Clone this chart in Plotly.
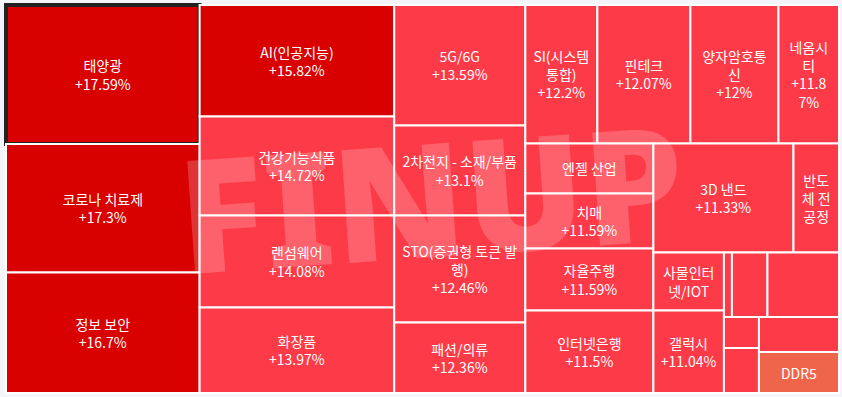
import plotly.graph_objects as go

# ---- data ----
names = ["태양광", "코로나 치료제", "정보 보안", "AI(인공지능)", "건강기능식품", "랜섬웨어", "화장품",
         "5G/6G", "2차전지 - 소재/부품", "STO(증권형 토큰 발행)", "패션/의류",
         "SI(시스템통합)", "핀테크", "양자암호통신", "네옴시티",
         "엔젤 산업", "치매", "자율주행", "인터넷은행", "3D 낸드", "반도체 전공정",
         "사물인터넷/IOT", "갤럭시", "", "", "", "", "", "", "DDR5"]
changes = [17.59, 17.3, 16.7, 15.82, 14.72, 14.08, 13.97,
           13.59, 13.1, 12.46, 12.36,
           12.2, 12.07, 12.0, 11.87,
           11.6, 11.59, 11.59, 11.5, 11.33, 11.2,
           11.1, 11.04, 11.0, 10.95, 10.9, 10.85, 10.8, 10.7, 9.8]
sizes = [26896, 24865, 23317, 21687, 19256, 17894, 16630,
         15786, 11790, 14017, 9236,
         9972, 12881, 12188, 8379,
         6400, 7040, 7936, 10560, 15260, 4960,
         4089, 5816, 516, 2290, 4612, 1085, 1575, 2800, 3280]

# how labels wrap inside narrow tiles
wrapped_names = {
    "SI(시스템통합)": "SI(시스템<br>통합)",
    "양자암호통신": "양자암호통<br>신",
    "네옴시티": "네옴시<br>티",
    "STO(증권형 토큰 발행)": "STO(증권형 토큰 발<br>행)",
    "반도체 전공정": "반도<br>체 전<br>공정",
    "사물인터넷/IOT": "사물인터<br>넷/IOT",
}
wrapped_pct = {"네옴시티": 5}
name_only = {"엔젤 산업", "반도체 전공정", "사물인터넷/IOT", "DDR5"}
selected = "태양광"


def fmt_pct(v):
    s = f"{v:.2f}".rstrip("0").rstrip(".")
    return "+" + s + "%"


texts, colors, lcolors, lwidths = [], [], [], []
for n, c in zip(names, changes):
    if n == "":
        texts.append("")
    else:
        t = wrapped_names.get(n, n)
        if n not in name_only:
            p = fmt_pct(c)
            if n in wrapped_pct:
                k = wrapped_pct[n]
                p = p[:k] + "<br>" + p[k:]
            t += "<br>" + p
        texts.append(t)
    if c >= 15:
        colors.append("#d90000")
    elif c >= 10:
        colors.append("#fd3a47")
    else:
        colors.append("#ef654b")
    if n == selected:
        lcolors.append("#222222")
        lwidths.append(4)
    else:
        lcolors.append("#ffffff")
        lwidths.append(2)

ids = [f"n{i}" for i in range(len(names))]

fig = go.Figure(go.Treemap(
    ids=ids,
    labels=[n if n else " " for n in names],
    parents=[""] * len(names),
    values=sizes,
    text=texts,
    texttemplate="%{text}",
    textposition="middle center",
    sort=False,
    tiling=dict(packing="squarify", squarifyratio=1.618, pad=0),
    marker=dict(colors=colors, line=dict(color=lcolors, width=lwidths),
                pad=dict(t=0, l=0, r=0, b=0)),
    pathbar=dict(visible=False),
    textfont=dict(family="Noto Sans CJK KR", size=14, color="white"),
    hoverinfo="skip",
))

fig.add_annotation(
    text="FINUP", xref="paper", yref="paper", x=0.51, y=0.51,
    showarrow=False, textangle=-4,
    font=dict(family="Noto Sans", size=158, color="rgba(255,255,255,0.2)", weight=900),
)

fig.update_layout(
    width=842, height=397,
    margin=dict(l=6, r=3, t=5, b=4),
    paper_bgcolor="#f3f5fb",
    uniformtext=dict(minsize=14, mode="show"),
)

fig.write_html(
    "out.html",
    config={"displayModeBar": False},
    post_script="document.body.style.margin='0';document.body.style.padding='0';",
)
